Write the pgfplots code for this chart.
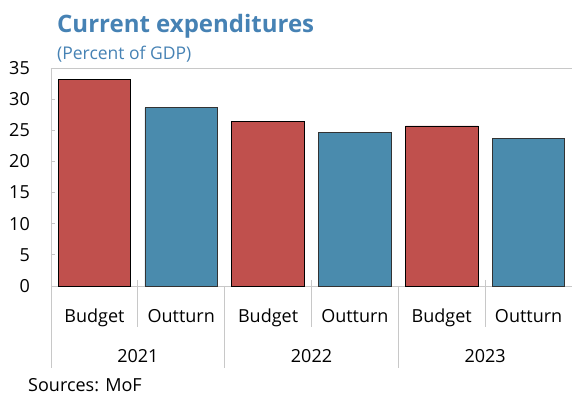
\documentclass[border=0pt]{standalone}
\usepackage{fontspec}
\setmainfont{Open Sans}
\usepackage{pgfplots}
\pgfplotsset{compat=1.18}
\definecolor{barred}{RGB}{192,80,77}
\definecolor{barblue}{RGB}{74,139,173}
\definecolor{titleblue}{RGB}{70,130,180}
\definecolor{axgray}{RGB}{200,200,200}
\begin{document}
\begin{tikzpicture}
\useasboundingbox (-51pt,-109pt) rectangle (521pt,286pt);
\begin{axis}[
  at={(0pt,0pt)}, anchor=south west,
  scale only axis, width=521pt, height=218pt,
  xmin=-0.5, xmax=5.5, ymin=0, ymax=35,
  axis x line*=bottom, axis y line*=left,
  axis line style={axgray, line width=0.8pt},
  ytick={0,5,...,35},
  tick align=inside,
  major tick length=4pt,
  ytick style={axgray, line width=0.8pt},
  xtick={0,...,5},
  xticklabels={Budget,Outturn,Budget,Outturn,Budget,Outturn},
  xtick style={draw=none},
  tick label style={font=\fontsize{18}{20}\selectfont, text=black},
  xticklabel style={anchor=base, yshift=-37pt, inner sep=0pt},
  yticklabel style={anchor=east, inner sep=0pt, xshift=-21pt},
  /pgf/number format/assume math mode=true,
  extra y ticks={35}, extra y tick labels={},
  extra y tick style={grid=major, major grid style={axgray, line width=0.8pt}},
  clip=false,
]
\addplot[ybar, bar width=0.835, bar shift=0pt, fill=barred, draw=black, line width=0.8pt]
  coordinates {(0,33.2) (2,26.4) (4,25.7)};
\addplot[ybar, bar width=0.835, bar shift=0pt, fill=barblue, draw=black!80, line width=0.8pt]
  coordinates {(1,28.6) (3,24.6) (5,23.7)};
\draw[axgray, line width=0.8pt] ([yshift=6pt]axis cs:0.5,0) -- ([yshift=-41pt]axis cs:0.5,0);
\draw[axgray, line width=0.8pt] ([yshift=6pt]axis cs:2.5,0) -- ([yshift=-41pt]axis cs:2.5,0);
\draw[axgray, line width=0.8pt] ([yshift=6pt]axis cs:4.5,0) -- ([yshift=-41pt]axis cs:4.5,0);
\draw[axgray, line width=0.8pt] (axis cs:-0.5,0) -- ([yshift=-82pt]axis cs:-0.5,0);
\draw[axgray, line width=0.8pt] (axis cs:1.5,0) -- ([yshift=-82pt]axis cs:1.5,0);
\draw[axgray, line width=0.8pt] (axis cs:3.5,0) -- ([yshift=-82pt]axis cs:3.5,0);
\node[anchor=base, font=\fontsize{18}{20}\selectfont, inner sep=0pt] at ([yshift=-76.5pt]axis cs:0.5,0) {2021};
\node[anchor=base, font=\fontsize{18}{20}\selectfont, inner sep=0pt] at ([yshift=-76.5pt]axis cs:2.5,0) {2022};
\node[anchor=base, font=\fontsize{18}{20}\selectfont, inner sep=0pt] at ([yshift=-76.5pt]axis cs:4.5,0) {2023};
\end{axis}
\node[anchor=base west, inner sep=0pt, font=\bfseries\fontsize{24}{28}\selectfont, text=titleblue] at (6pt,253pt) {Current expenditures};
\node[anchor=base west, inner sep=0pt, font=\fontsize{17.5}{20}\selectfont, text=titleblue] at (6pt,226.5pt) {(Percent of GDP)};
\node[anchor=base west, inner sep=0pt, font=\fontsize{18}{20}\selectfont] at (-23pt,-105.5pt) {Sources: MoF};
\end{tikzpicture}
\end{document}
